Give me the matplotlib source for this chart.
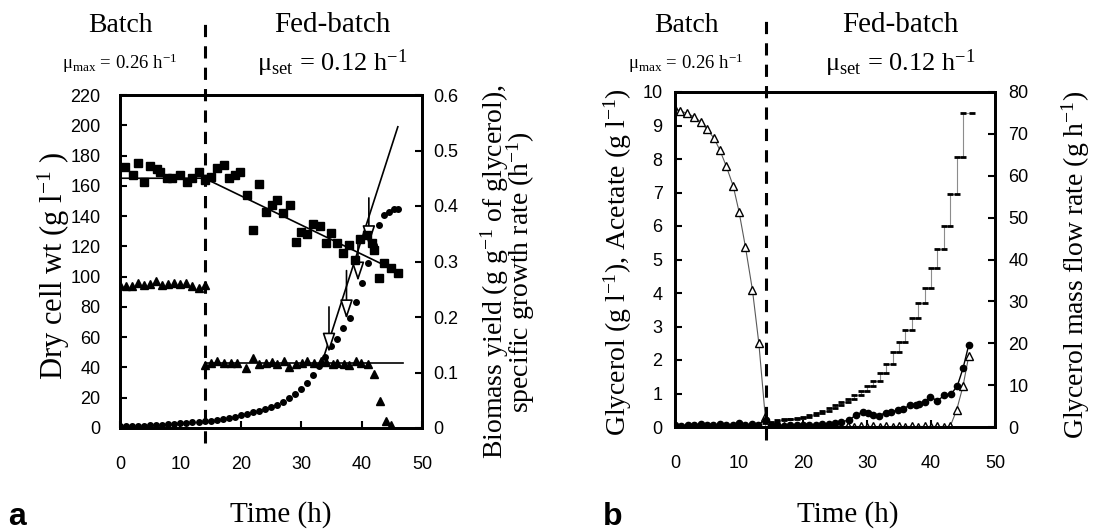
import matplotlib
matplotlib.use("Agg")
import matplotlib.pyplot as plt

plt.rcParams.update({
    "font.family": "Liberation Sans",
    "font.size": 13,
    "mathtext.fontset": "custom",
    "mathtext.rm": "Liberation Serif",
    "mathtext.it": "Liberation Serif:italic",
})
SERIF = "Liberation Serif"

# ---------------- panel a ----------------
# dry cell weight (g/l), left axis
dcw_t = [0, 1, 2, 3, 4, 5, 6, 7, 8, 9, 10, 11, 12, 13, 14, 15, 16, 17, 18, 19, 20,
         21, 22, 23, 24, 25, 26, 27, 28, 29, 30, 31, 32, 33, 34, 35, 36, 37, 38, 39,
         40, 41, 42, 42.9, 43.7, 44.5, 45.3, 46]
dcw = [1.0, 1.1, 1.3, 1.4, 1.6, 1.8, 2.0, 2.2, 2.5, 2.8, 3.0, 3.3, 3.7, 4.0, 4.3, 4.8,
       5.3, 6.0, 6.7, 7.5, 8.4, 9.3, 10.3, 11.4, 12.6, 14.0, 15.5, 17.3, 19.5, 22.5,
       26, 30, 35, 41, 47, 54, 59, 66, 73, 83, 96, 109, 121, 134, 141, 143, 144.5, 145]
dcw_fit_t = [33.5, 46.0]
dcw_fit = [44, 199]

# biomass yield (g/g), right axis
yield_t = [0.8, 2.2, 3.0, 3.9, 5.0, 6.1, 6.6, 7.8, 8.6, 10.0, 11.1, 11.9, 13.0, 14.1,
           15.0, 16.1, 17.2, 18.0, 19.1, 19.9, 21.0, 22.1, 23.0, 24.1, 25.2, 26.0,
           27.0, 28.1, 29.1, 29.9, 31.0, 32.0, 33.1, 34.1, 35.0, 36.0, 37.0, 37.9,
           38.9, 39.8, 40.9, 41.8, 42.1, 42.9, 43.7, 44.9, 46.0]
yield_v = [0.470, 0.456, 0.477, 0.444, 0.472, 0.466, 0.462, 0.450, 0.450, 0.456,
           0.444, 0.450, 0.462, 0.447, 0.453, 0.468, 0.474, 0.450, 0.456, 0.462,
           0.420, 0.357, 0.440, 0.390, 0.402, 0.411, 0.387, 0.402, 0.335, 0.354,
           0.350, 0.368, 0.364, 0.334, 0.352, 0.334, 0.315, 0.330, 0.303, 0.340,
           0.348, 0.333, 0.321, 0.270, 0.297, 0.288, 0.280]
yield_fit_t = [0, 14, 46.5]
yield_fit = [0.450, 0.450, 0.279]

# specific growth rate (1/h), right axis
mu_t = [0, 1, 2, 3, 4, 5, 6, 7, 8, 9, 10, 11, 12, 13, 14,
        14.1, 15.0, 16.1, 17.2, 18.3, 19.4, 20.8, 22.0, 23.0, 24.1, 25.2, 26.0,
        27.1, 28.0, 29.1, 30.2, 31.0, 32.1, 33.2, 34.1, 35.2, 36.0, 37.1, 37.9,
        39.0, 39.9, 41.0, 42.1, 43.1, 44.0, 44.9]
mu = [0.258, 0.255, 0.256, 0.262, 0.258, 0.260, 0.265, 0.258, 0.260, 0.262, 0.260,
      0.262, 0.255, 0.252, 0.258,
      0.114, 0.118, 0.121, 0.117, 0.118, 0.118, 0.108, 0.126, 0.116, 0.117, 0.119,
      0.116, 0.120, 0.110, 0.116, 0.117, 0.120, 0.118, 0.121, 0.119, 0.115, 0.117,
      0.116, 0.114, 0.120, 0.118, 0.116, 0.098, 0.049, 0.013, 0.005]
mu_fit_t = [14, 46.8]
mu_fit = [0.118, 0.118]

arrow_t = [34.6, 37.5, 39.4, 41.2]
arrow_top = [80, 104, 126, 152]
arrow_tip = [50, 72, 97, 121]

# ---------------- panel b ----------------
gly_t = [0, 0.8, 1.9, 3.0, 4.0, 5.0, 6.1, 7.0, 8.0, 9.1, 10.0, 11.0, 12.1, 13.1, 14.1,
         15, 16, 17, 18, 19, 20, 21, 22, 23, 24, 25, 26, 27, 28, 29, 30, 31, 32, 33,
         34, 35, 36, 37, 38, 39, 40, 41, 42, 43, 44.0, 45.0, 45.9]
gly = [9.48, 9.44, 9.36, 9.26, 9.11, 8.89, 8.62, 8.27, 7.79, 7.19, 6.43, 5.38, 4.09,
       2.50, 0.31, 0.02, 0.01, 0.02, 0.01, 0.02, 0.01, 0.02, 0.01, 0.02, 0.01, 0.02,
       0.01, 0.02, 0.01, 0.02, 0.01, 0.02, 0.01, 0.02, 0.01, 0.02, 0.01, 0.02, 0.01,
       0.02, 0.01, 0.02, 0.01, 0.02, 0.50, 1.22, 2.12]

act_t = [0, 1, 2, 3, 4, 5, 6, 7, 8, 9, 10, 11, 12, 13, 14.2, 15, 16, 17, 18, 19, 20,
         21, 22, 23, 24, 25, 26, 27.2, 28.3, 29.4, 30.2, 31.0, 31.9, 32.9, 33.8, 34.8,
         35.7, 36.7, 37.6, 38.2, 39.0, 39.9, 41.0, 42.1, 43.2, 44.1, 45.0, 45.9]
act = [0.05, 0.04, 0.06, 0.05, 0.10, 0.06, 0.05, 0.08, 0.06, 0.07, 0.12, 0.06, 0.08,
       0.07, 0.22, 0.05, 0.06, 0.04, 0.05, 0.06, 0.05, 0.07, 0.06, 0.08, 0.10, 0.12,
       0.15, 0.21, 0.36, 0.46, 0.43, 0.36, 0.34, 0.43, 0.46, 0.50, 0.55, 0.65, 0.65,
       0.70, 0.75, 0.90, 0.78, 0.95, 1.00, 1.22, 1.75, 2.45]

# glycerol mass flow rate (g/h), right axis, one level per feeding step
flow_start = [0, 1, 2, 3, 4, 5, 6, 7, 8, 9, 10, 11, 12, 13, 14, 15, 16, 17, 18, 19,
              20, 21, 22, 23, 24, 25, 26, 27, 28, 29, 30, 31, 32, 33, 34, 35, 36, 37,
              38, 39, 40, 41, 42, 43, 44, 45]
flow_end = [1, 2, 3, 4, 5, 6, 7, 8, 9, 10, 11, 12, 13, 14, 15, 16, 17, 18, 19, 20,
            21, 22, 23, 24, 25, 26, 27, 28, 29, 30, 31, 32, 33, 34, 35, 36, 37, 38,
            39, 40, 41, 42, 43, 44, 45, 46.4]
flow = [0, 0, 0, 0, 0, 0, 0, 0, 0, 0, 0, 0, 0, 0, 1.0, 1.3, 1.6, 1.8, 2.0, 2.2,
        2.5, 2.8, 3.3, 3.9, 4.6, 5.3, 6.0, 6.8, 7.7, 8.7, 9.8, 11.0, 13.0, 15.0,
        18.0, 20.4, 23.2, 26.1, 29.7, 33.3, 37.9, 42.4, 48.0, 55.6, 64.5, 75.1]

W, H = 1094, 531
fig = plt.figure(figsize=(W / 100, H / 100), dpi=100)


def px(x, y):
    return x / W, 1 - y / H


def style(ax, ypad):
    for s in ax.spines.values():
        s.set_linewidth(2)
    ax.tick_params(direction="in", length=5, width=1.5, labelsize=13)
    ax.tick_params(axis="x", pad=20)
    ax.tick_params(axis="y", pad=ypad)


axA = fig.add_axes([120 / W, 1 - 428 / H, 302 / W, 333 / H])
axA2 = axA.twinx()
axB = fig.add_axes([675 / W, 1 - 427 / H, 320 / W, 335 / H])
axB2 = axB.twinx()
style(axA, 14)
style(axA2, 8)
style(axB, 9)
style(axB2, 9.5)

# panel a
axA.plot(dcw_t, dcw, "o", color="k", ms=4, zorder=3)
axA.plot(dcw_fit_t, dcw_fit, "-", color="k", lw=1.2)
for t, top, tip in zip(arrow_t, arrow_top, arrow_tip):
    axA.annotate("", xy=(t, tip), xytext=(t, top),
                 arrowprops=dict(arrowstyle="-|>,head_length=0.9,head_width=0.3",
                                 fc="white", ec="k", lw=1.2, shrinkA=0, shrinkB=0))
axA2.plot(yield_t, yield_v, "s", color="k", ms=6)
axA2.plot(yield_fit_t, yield_fit, "-", color="k", lw=1.2)
axA2.plot(mu_t, mu, "^", color="k", ms=5.5)
axA2.plot(mu_fit_t, mu_fit, "-", color="k", lw=1.2)

axA.set_xlim(0, 50)
axA.set_ylim(0, 220)
axA.set_yticks(range(0, 221, 20))
axA.set_xticks([0, 10, 20, 30, 40, 50])
axA2.set_ylim(0, 0.6)
axA2.set_yticks([0, 0.1, 0.2, 0.3, 0.4, 0.5, 0.6])
axA2.set_yticklabels(["0", "0.1", "0.2", "0.3", "0.4", "0.5", "0.6"])
axA.axvline(14, ymin=-0.045, ymax=1.22, clip_on=False, color="k", lw=2.2,
            ls=(0, (4, 3)))

# panel b
axB.plot(gly_t, gly, "-", color="0.35", lw=0.8)
axB.plot(gly_t, gly, "^", mfc="white", mec="k", ms=5.5, mew=1)
axB.plot(act_t, act, "-o", color="k", lw=1, ms=4.5)
fx, fy = [], []
for s, e, v in zip(flow_start, flow_end, flow):
    fx += [s, e]
    fy += [v, v]
axB2.plot(fx, fy, "-", color="0.55", lw=0.8)
axB2.plot(fx, fy, "_", color="k", ms=4, mew=2)

axB.set_xlim(0, 50)
axB.set_ylim(0, 10)
axB.set_yticks(range(0, 11))
axB.set_xticks([0, 10, 20, 30, 40, 50])
axB2.set_ylim(0, 80)
axB2.set_yticks(range(0, 81, 10))
axB.axvline(14.2, ymin=-0.04, ymax=1.215, clip_on=False, color="k", lw=2.2,
            ls=(0, (4, 3)))

INV_H = r"$\mathrm{h}^{\mathrm{-1}}$"
INV_L = r"$\mathrm{l}^{\mathrm{-1}}$"

# headers
for cx_b, cx_f in ((120, 332), (686, 900)):
    fig.text(*px(cx_b, 25), "Batch", family=SERIF, size=20, ha="center", va="center")
    fig.text(*px(cx_b, 63), "μ$_{\\rm max}$ = 0.26 " + INV_H, family=SERIF,
             size=13.5, ha="center", va="center")
    fig.text(*px(cx_f, 25), "Fed-batch", family=SERIF, size=21, ha="center",
             va="center")
    fig.text(*px(cx_f, 63), "μ$_{\\rm set}$ = 0.12 " + INV_H, family=SERIF,
             size=19, ha="center", va="center")

# axis labels
fig.text(*px(54, 266), "Dry cell wt (g " + INV_L + " )", family=SERIF, size=22,
         rotation=90, ha="center", va="center")
fig.text(*px(508, 272),
         "Biomass yield (g g$^{\\mathrm{-1}}$ of glycerol),\nspecific growth rate ("
         + INV_H + ")",
         family=SERIF, size=20, rotation=90, ha="center", va="center",
         multialignment="center", linespacing=0.75)
fig.text(*px(618, 262), "Glycerol (g " + INV_L + "), Acetate (g " + INV_L + ")",
         family=SERIF, size=20, rotation=90, ha="center", va="center")
fig.text(*px(1076, 265), "Glycerol mass flow rate (g " + INV_H + ")", family=SERIF,
         size=20, rotation=90, ha="center", va="center")
fig.text(*px(281, 515), "Time (h)", family=SERIF, size=21, ha="center", va="center")
fig.text(*px(848, 515), "Time (h)", family=SERIF, size=21, ha="center", va="center")
fig.text(*px(17, 517), "a", size=23, weight="bold", ha="center", va="center")
fig.text(*px(613, 517), "b", size=23, weight="bold", ha="center", va="center")

fig.savefig("out.png", dpi=100)
